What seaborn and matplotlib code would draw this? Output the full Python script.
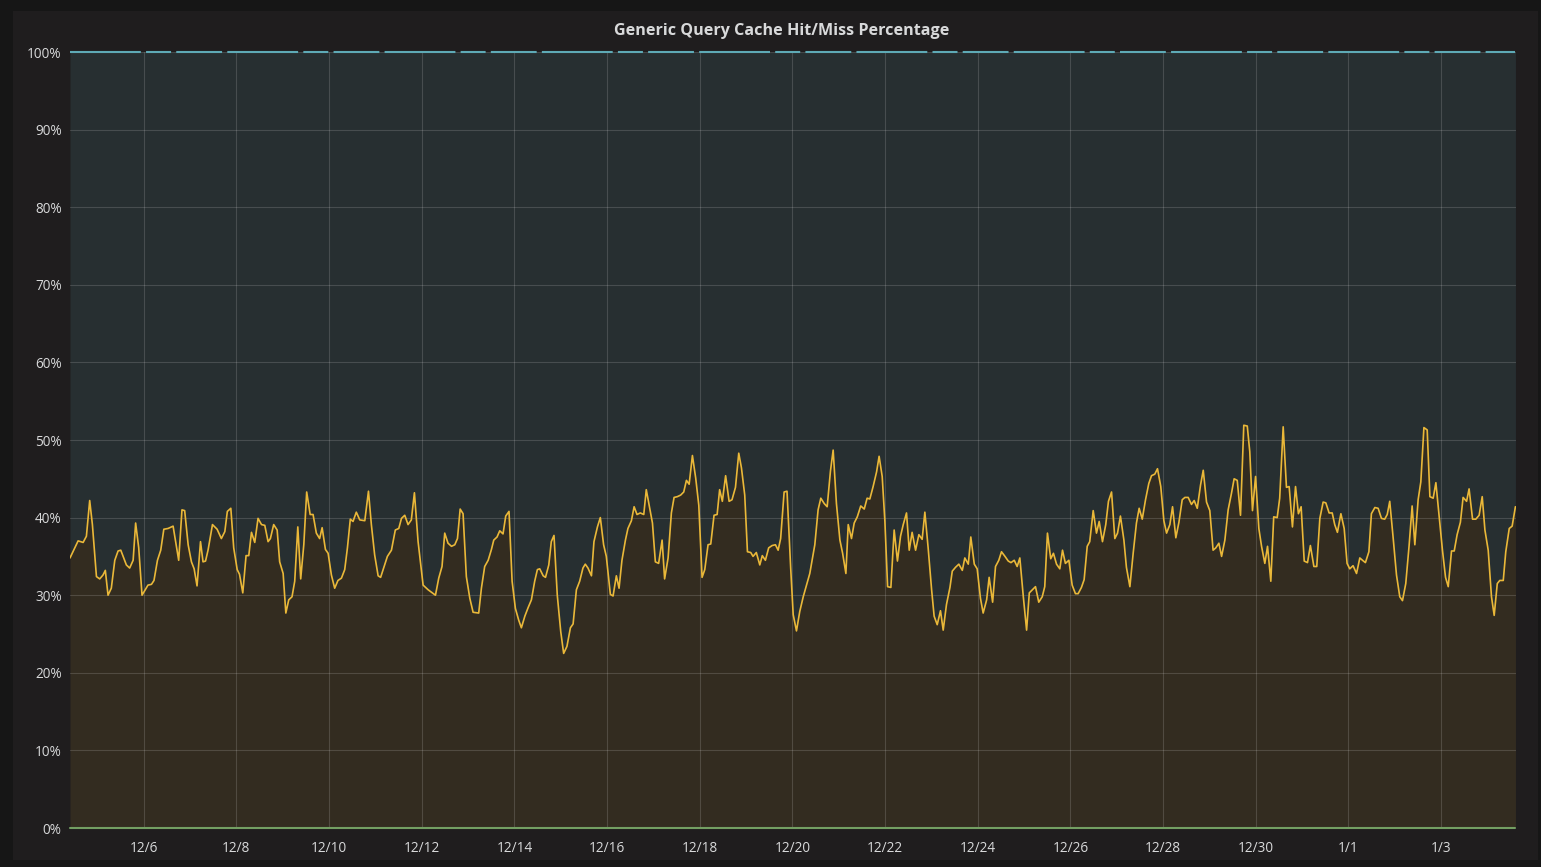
import matplotlib
matplotlib.use("Agg")
import matplotlib.pyplot as plt
from matplotlib.patches import Rectangle
import seaborn as sns
import pandas as pd

# hours since 2016-12-04 00:00 and the cache miss percentage at that time
hours = [
    9.8, 14.0, 16.6, 18.3, 20.0, 21.4, 23.5, 25.2, 26.9, 28.1, 29.5, 31.2, 33.0, 34.7, 36.1, 39.0,
    40.7, 42.5, 43.8, 45.4, 47.1, 50.2, 52.0, 53.3, 55.1, 56.8, 58.4, 60.6, 63.2, 66.1, 67.8, 69.2,
    71.0, 72.7, 74.1, 75.6, 77.4, 78.7, 80.0, 81.3, 83.6, 86.0, 88.2, 90.0, 91.3, 93.1, 94.6, 96.4,
    97.6, 99.3, 101.0, 102.4, 103.8, 105.5, 107.2, 109.0, 110.7, 112.4, 113.6, 115.3, 117.1, 118.4,
    120.2, 121.6, 123.1, 124.8, 126.2, 127.8, 129.3, 130.9, 132.4, 134.2,
    135.7, 137.4, 139.1, 140.4, 142.1, 143.5, 145.2, 146.9, 148.6, 150.4, 152.1, 153.5, 155.0, 156.4,
    158.1, 159.9, 162.5, 164.4, 165.9, 167.6, 169.4, 170.7, 172.5, 174.2, 176.3, 178.3, 180.1, 181.5,
    183.2, 184.9, 186.6, 188.2, 190.1, 192.7, 195.3, 199.1, 200.8, 202.5, 203.9, 205.6, 207.4, 209.1,
    210.5, 211.9, 213.4, 215.1, 216.9, 218.6, 221.5, 222.9, 224.6, 226.4, 228.1, 229.3, 231.0, 232.4,
    234.1, 235.5, 237.2, 238.8, 240.5, 242.2, 243.6, 245.4, 247.1, 248.8, 250.5, 251.9, 253.1, 254.9,
    256.1, 257.8,
    259.1, 260.5, 262.2, 264.0, 265.5, 267.2, 269.0, 270.4, 272.1, 273.8, 275.5, 276.7, 278.1, 279.9,
    281.2, 283.0, 284.5, 286.2, 287.6, 289.7, 291.1, 292.8, 294.2, 295.7, 297.5, 298.8, 300.6, 302.0,
    303.5, 305.2, 307.0, 308.3, 310.1, 311.5, 313.0, 314.7, 316.5, 317.8, 319.6, 321.3, 322.7, 324.4,
    326.1, 327.7, 329.1, 330.5, 332.2, 333.9, 335.5, 337.2, 338.6, 340.3, 341.7, 343.4, 345.0, 346.3,
    347.7, 349.4, 351.2, 352.7, 354.5, 356.2, 357.6, 359.3, 360.7, 362.4, 363.6, 365.3, 367.1, 368.4,
    370.0, 371.7, 373.5, 375.2, 376.6, 377.9, 379.7, 381.2, 383.1,
    384.4, 386.1, 387.8, 389.6, 391.3, 393.0, 395.6, 397.3, 398.7, 400.5, 402.0, 403.7, 405.1, 406.8,
    408.6, 410.0, 411.7, 412.9, 414.6, 416.0, 417.6, 419.4, 421.2, 422.7, 424.1, 425.8, 427.6, 428.9,
    430.5, 431.9, 433.3, 435.0, 436.7, 438.4, 440.0, 441.4, 443.1, 444.5, 446.0, 447.8, 449.5, 451.2,
    452.6, 454.3, 456.1, 457.4, 459.0, 460.7, 462.1, 463.8, 465.6, 466.8, 468.5, 470.2, 472.0, 473.3,
    475.1, 476.4, 478.2, 479.7, 481.4, 482.8, 484.6, 485.9, 487.7, 489.2, 490.9, 492.3, 494.1, 495.8,
    497.2, 498.9, 500.4, 501.8, 503.6, 505.3, 506.7,
    509.9, 511.6, 513.4, 514.7, 516.1, 517.8, 519.2, 520.8, 522.5, 523.9, 525.4, 527.2, 528.9, 530.6,
    532.0, 533.7, 535.1, 536.7, 538.0, 539.8, 541.5, 542.9, 544.6, 546.3, 547.7, 549.3, 551.0, 552.4,
    553.9, 555.7, 557.0, 558.8, 560.5, 562.2, 563.6, 565.2, 566.9, 568.6, 570.0, 571.7, 573.1, 574.8,
    576.4, 577.8, 579.5, 580.9, 582.6, 584.2, 585.9, 587.3, 589.0, 590.7, 592.1, 593.7, 595.4, 596.8,
    598.5, 600.2, 601.9, 603.3, 604.9, 606.3, 608.0, 609.7, 611.4, 612.8, 614.4, 616.1, 617.8, 619.6,
    620.9, 622.3, 623.9, 625.6, 627.0, 628.7, 630.1, 631.8,
    633.3, 635.1, 636.4, 638.2, 639.9, 641.3, 643.0, 644.6, 646.1, 647.5, 649.1, 650.8, 652.3, 654.1,
    655.6, 657.2, 658.9, 660.3, 662.0, 663.6, 664.9, 666.3, 668.1, 669.8, 671.3, 672.7, 674.4, 676.2,
    677.9, 679.3, 680.8, 682.6, 683.9, 685.7, 687.4, 689.1, 690.8, 692.1, 693.4, 695.2, 696.9, 698.6,
    700.0, 701.7, 703.4, 705.0, 706.4, 708.1, 709.5, 711.1, 712.8, 714.2, 715.9, 717.3, 719.0, 720.7,
    722.3, 723.7, 725.4, 726.8, 728.3, 730.0, 731.4, 733.2, 734.5, 736.3, 738.0, 739.7, 741.3, 742.7,
    744.4, 746.1, 747.5, 749.1, 750.4, 752.2, 753.5, 755.3, 756.8, 758.5,
]

miss = [
    34.8, 37.0, 36.8, 37.6, 42.2, 39.1, 32.4, 32.1, 32.6, 33.2, 30.0, 30.9, 34.5, 35.7, 35.8, 33.9,
    33.5, 34.5, 39.3, 36.1, 30.0, 31.3, 31.4, 31.9, 34.5, 35.8, 38.5, 38.6, 38.9, 34.5, 41.0, 40.9,
    36.5, 34.3, 33.4, 31.2, 36.9, 34.3, 34.4, 35.8, 39.1, 38.5, 37.3, 38.2, 40.8, 41.2, 36.1, 33.3,
    32.7, 30.3, 35.1, 35.1, 38.1, 36.8, 39.9, 39.1, 39.0, 36.9, 37.3, 39.1, 38.4, 34.3,
    32.8, 27.7, 29.4, 29.8, 31.8, 38.8, 32.1, 36.5, 43.3, 40.4,
    40.4, 38.0, 37.3, 38.7, 35.9, 35.4, 32.6, 30.9, 31.9, 32.2, 33.3, 36.1, 39.8, 39.5,
    40.7, 39.7, 39.6, 43.4, 39.1, 35.2, 32.5, 32.3, 33.7, 35.0, 35.8, 38.4, 38.6, 39.9,
    40.3, 39.1, 39.7, 43.2, 36.9, 31.3, 30.7, 30.0, 32.2, 33.7, 38.0, 36.7, 36.3, 36.5,
    37.3, 41.1, 40.5, 32.4, 29.6, 27.8, 27.7, 30.9, 33.7, 34.5, 35.9, 37.1, 37.5, 38.3,
    37.9, 40.2, 40.8, 31.8, 28.3, 26.8, 25.8, 27.3, 28.4, 29.4, 31.8, 33.3, 33.4, 32.5,
    32.3, 33.9,
    36.9, 37.7, 30.0, 25.3, 22.5, 23.4, 25.8, 26.3, 30.7, 31.8, 33.5, 34.0, 33.5, 32.5,
    36.9, 38.8, 40.0, 36.5, 35.0, 30.1, 29.9, 32.5, 30.9, 34.5, 37.1, 38.6, 39.6, 41.4,
    40.4, 40.6, 40.4, 43.6, 41.2, 39.3, 34.3, 34.1, 37.1, 32.1, 34.8, 40.6, 42.6, 42.7,
    42.9, 43.3, 44.8, 44.3, 48.0, 45.1, 41.6, 32.3, 33.3, 36.5, 36.6, 40.3, 40.4, 43.6,
    42.1, 45.4, 42.1, 42.3, 43.9, 48.3, 46.4, 42.9, 35.6, 35.5, 35.0, 35.5, 33.9, 35.1,
    34.5, 36.1, 36.4, 36.5, 35.8, 37.3, 43.3, 43.4, 33.5,
    27.5, 25.4, 27.9, 29.8, 31.3, 32.8, 36.5, 41.0, 42.5, 41.8, 41.4, 46.0, 48.7, 41.8,
    37.1, 35.4, 32.8, 39.1, 37.3, 39.3, 40.1, 41.5, 41.1, 42.5, 42.4, 44.0, 45.9, 47.9,
    45.3, 39.5, 31.1, 31.0, 38.4, 34.4, 37.6, 39.1, 40.6, 35.8, 38.1, 35.8, 37.8, 37.2,
    40.7, 36.1, 30.7, 27.3, 26.2, 28.0, 25.5, 28.8, 31.0, 33.1, 33.6, 34.0, 33.2, 34.8,
    34.0, 37.5, 34.0, 33.4, 29.6, 27.7, 29.4, 32.3, 29.1, 33.7, 34.5, 35.6, 35.0, 34.4,
    34.2, 34.5, 33.7, 34.8, 29.8, 25.5, 30.3,
    31.1, 29.1, 29.8, 31.1, 38.0, 34.7, 35.4, 34.0, 33.4, 35.8, 34.1, 34.5, 31.3, 30.2,
    30.2, 31.0, 32.0, 36.3, 36.9, 40.9, 38.0, 39.5, 36.9, 39.1, 42.1, 43.3, 37.3, 38.0,
    40.2, 37.1, 33.6, 31.1, 35.4, 39.3, 41.2, 39.8, 42.3, 44.4, 45.4, 45.6, 46.3, 44.0,
    39.6, 38.0, 39.1, 41.4, 37.4, 39.4, 42.3, 42.6, 42.6, 41.7, 42.2, 41.2, 44.2, 46.1,
    42.0, 40.9, 35.8, 36.1, 36.7, 35.0, 37.1, 41.0, 43.1, 45.0, 44.8, 40.3, 51.9, 51.8,
    48.5, 40.9, 45.3, 38.6, 36.3, 34.1, 36.3, 31.8,
    40.1, 40.0, 42.5, 51.7, 43.9, 44.0, 38.8, 44.0, 40.5, 41.4, 34.4, 34.2, 36.4, 33.7,
    33.7, 39.9, 42.0, 41.9, 40.6, 40.6, 39.1, 38.1, 40.5, 38.6, 34.1, 33.4, 33.8, 32.8,
    34.8, 34.5, 34.2, 35.6, 40.5, 41.3, 41.2, 39.9, 39.8, 40.4, 42.1, 37.3, 32.6, 29.8,
    29.3, 31.5, 36.3, 41.5, 36.5, 42.3, 44.6, 51.6, 51.3, 42.7, 42.5, 44.5, 40.1, 35.8,
    32.3, 31.1, 35.7, 35.7, 37.8, 39.4, 42.6, 42.1, 43.7, 39.8, 39.8, 40.3, 42.7, 38.4,
    35.8, 29.8, 27.4, 31.5, 31.9, 31.9, 35.6, 38.6, 38.9, 41.4,
]

start = pd.Timestamp("2016-12-04")
tick_days = pd.date_range("2016-12-06", "2017-01-03", freq="2D")
y_ticks = list(range(0, 101, 10))

df = pd.DataFrame({"time": start + pd.to_timedelta(hours, unit="h"), "miss": miss})
df["hit"] = 100 - df["miss"]
df["errors"] = 0.0
# stacked like the dashboard: errors, then miss, then hit on top
df["miss_top"] = df["errors"] + df["miss"]
df["hit_top"] = df["miss_top"] + df["hit"]

sns.set_style("dark")
plt.rcParams["font.family"] = ["Open Sans", "DejaVu Sans"]

W, H = 1541, 867
fig = plt.figure(figsize=(W / 100, H / 100), dpi=100, facecolor="#161616")
fig.patches.append(Rectangle((13 / W, 1 - 860 / H), 1525 / W, 849 / H,
                             transform=fig.transFigure, facecolor="#1f1d1e",
                             edgecolor="none", zorder=-5))

ax = fig.add_axes([70 / W, 1 - 828 / H, 1446 / W, 776 / H])
ax.set_zorder(3)
ax.set_facecolor("#1f1d1e")

ax.fill_between(df["time"], df["errors"], df["miss_top"], color="#eab839",
                alpha=0.1, lw=0, zorder=1)
ax.fill_between(df["time"], df["miss_top"], df["hit_top"], color="#6ed0e0",
                alpha=0.1, lw=0, zorder=1)

sns.lineplot(data=df, x="time", y="miss_top", color="#eab839", lw=1.2, ax=ax, zorder=4)
sns.lineplot(data=df, x="time", y="hit_top", color="#5eaab6", lw=1.5, ax=ax, zorder=4,
             clip_on=False)
sns.lineplot(data=df, x="time", y="errors", color="#739f62", lw=1.5, ax=ax, zorder=4,
             clip_on=False)
ax.lines[1].set_dashes([34, 2.5, 12, 2.5, 22, 2.5])

ax.set_xlim(start + pd.Timedelta(hours=9.8), start + pd.Timedelta(hours=758.8))
ax.set_ylim(0, 100)
ax.set_xticks(tick_days)
ax.set_xticklabels([f"{d.month}/{d.day}" for d in tick_days])
ax.set_yticks(y_ticks)
ax.set_yticklabels([f"{v}%" for v in y_ticks])
ax.set_xlabel("")
ax.set_ylabel("")

ax.grid(True, color="#ffffff", alpha=0.15, lw=0.8, zorder=2)
ax.set_axisbelow(False)
for s in ax.spines.values():
    s.set_visible(False)
ax.tick_params(axis="both", length=0, colors="#d8d9da", labelsize=9.8)
ax.tick_params(axis="y", pad=6)
ax.tick_params(axis="x", pad=9)

fig.text(782 / W, 1 - 31 / H, "Generic Query Cache Hit/Miss Percentage",
         ha="center", va="center", color="#d8d9da", fontsize=11.6, fontweight="bold")

fig.savefig("out.png", dpi=100, facecolor=fig.get_facecolor())
